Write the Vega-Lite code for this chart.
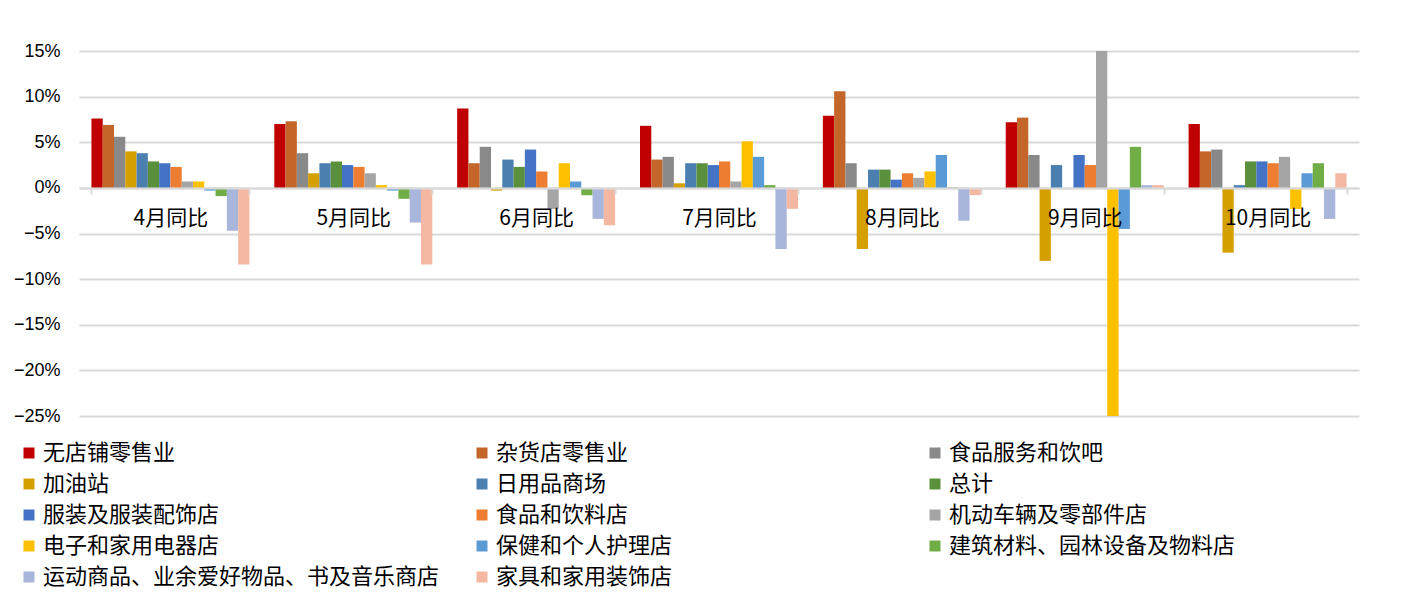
{
  "$schema": "https://vega.github.io/schema/vega-lite/v6.json",
  "width": 1280,
  "height": 365,
  "autosize": {"type": "none"},
  "padding": {"left": 79, "top": 51, "right": 44, "bottom": 185},
  "background": "white",
  "config": {"view": {"stroke": null}, "font": "Liberation Sans"},
  "datasets": {
    "d": [
      {"month": "4月同比", "series": "无店铺零售业", "value": 7.6},
      {"month": "4月同比", "series": "杂货店零售业", "value": 6.9},
      {"month": "4月同比", "series": "食品服务和饮吧", "value": 5.6},
      {"month": "4月同比", "series": "加油站", "value": 4.0},
      {"month": "4月同比", "series": "日用品商场", "value": 3.8},
      {"month": "4月同比", "series": "总计", "value": 2.9},
      {"month": "4月同比", "series": "服装及服装配饰店", "value": 2.7},
      {"month": "4月同比", "series": "食品和饮料店", "value": 2.3},
      {"month": "4月同比", "series": "机动车辆及零部件店", "value": 0.7},
      {"month": "4月同比", "series": "电子和家用电器店", "value": 0.7},
      {"month": "4月同比", "series": "保健和个人护理店", "value": -0.3},
      {"month": "4月同比", "series": "建筑材料、园林设备及物料店", "value": -0.9},
      {"month": "4月同比", "series": "运动商品、业余爱好物品、书及音乐商店", "value": -4.7},
      {"month": "4月同比", "series": "家具和家用装饰店", "value": -8.4},

      {"month": "5月同比", "series": "无店铺零售业", "value": 7.0},
      {"month": "5月同比", "series": "杂货店零售业", "value": 7.3},
      {"month": "5月同比", "series": "食品服务和饮吧", "value": 3.8},
      {"month": "5月同比", "series": "加油站", "value": 1.6},
      {"month": "5月同比", "series": "日用品商场", "value": 2.7},
      {"month": "5月同比", "series": "总计", "value": 2.9},
      {"month": "5月同比", "series": "服装及服装配饰店", "value": 2.5},
      {"month": "5月同比", "series": "食品和饮料店", "value": 2.3},
      {"month": "5月同比", "series": "机动车辆及零部件店", "value": 1.6},
      {"month": "5月同比", "series": "电子和家用电器店", "value": 0.3},
      {"month": "5月同比", "series": "保健和个人护理店", "value": -0.3},
      {"month": "5月同比", "series": "建筑材料、园林设备及物料店", "value": -1.2},
      {"month": "5月同比", "series": "运动商品、业余爱好物品、书及音乐商店", "value": -3.8},
      {"month": "5月同比", "series": "家具和家用装饰店", "value": -8.4},

      {"month": "6月同比", "series": "无店铺零售业", "value": 8.7},
      {"month": "6月同比", "series": "杂货店零售业", "value": 2.7},
      {"month": "6月同比", "series": "食品服务和饮吧", "value": 4.5},
      {"month": "6月同比", "series": "加油站", "value": -0.3},
      {"month": "6月同比", "series": "日用品商场", "value": 3.1},
      {"month": "6月同比", "series": "总计", "value": 2.3},
      {"month": "6月同比", "series": "服装及服装配饰店", "value": 4.2},
      {"month": "6月同比", "series": "食品和饮料店", "value": 1.8},
      {"month": "6月同比", "series": "机动车辆及零部件店", "value": -2.3},
      {"month": "6月同比", "series": "电子和家用电器店", "value": 2.7},
      {"month": "6月同比", "series": "保健和个人护理店", "value": 0.7},
      {"month": "6月同比", "series": "建筑材料、园林设备及物料店", "value": -0.8},
      {"month": "6月同比", "series": "运动商品、业余爱好物品、书及音乐商店", "value": -3.4},
      {"month": "6月同比", "series": "家具和家用装饰店", "value": -4.1},

      {"month": "7月同比", "series": "无店铺零售业", "value": 6.8},
      {"month": "7月同比", "series": "杂货店零售业", "value": 3.1},
      {"month": "7月同比", "series": "食品服务和饮吧", "value": 3.4},
      {"month": "7月同比", "series": "加油站", "value": 0.5},
      {"month": "7月同比", "series": "日用品商场", "value": 2.7},
      {"month": "7月同比", "series": "总计", "value": 2.7},
      {"month": "7月同比", "series": "服装及服装配饰店", "value": 2.5},
      {"month": "7月同比", "series": "食品和饮料店", "value": 2.9},
      {"month": "7月同比", "series": "机动车辆及零部件店", "value": 0.7},
      {"month": "7月同比", "series": "电子和家用电器店", "value": 5.1},
      {"month": "7月同比", "series": "保健和个人护理店", "value": 3.4},
      {"month": "7月同比", "series": "建筑材料、园林设备及物料店", "value": 0.3},
      {"month": "7月同比", "series": "运动商品、业余爱好物品、书及音乐商店", "value": -6.7},
      {"month": "7月同比", "series": "家具和家用装饰店", "value": -2.3},

      {"month": "8月同比", "series": "无店铺零售业", "value": 7.9},
      {"month": "8月同比", "series": "杂货店零售业", "value": 10.6},
      {"month": "8月同比", "series": "食品服务和饮吧", "value": 2.7},
      {"month": "8月同比", "series": "加油站", "value": -6.7},
      {"month": "8月同比", "series": "日用品商场", "value": 2.0},
      {"month": "8月同比", "series": "总计", "value": 2.0},
      {"month": "8月同比", "series": "服装及服装配饰店", "value": 0.9},
      {"month": "8月同比", "series": "食品和饮料店", "value": 1.6},
      {"month": "8月同比", "series": "机动车辆及零部件店", "value": 1.1},
      {"month": "8月同比", "series": "电子和家用电器店", "value": 1.8},
      {"month": "8月同比", "series": "保健和个人护理店", "value": 3.6},
      {"month": "8月同比", "series": "建筑材料、园林设备及物料店", "value": 0.05},
      {"month": "8月同比", "series": "运动商品、业余爱好物品、书及音乐商店", "value": -3.6},
      {"month": "8月同比", "series": "家具和家用装饰店", "value": -0.8},

      {"month": "9月同比", "series": "无店铺零售业", "value": 7.2},
      {"month": "9月同比", "series": "杂货店零售业", "value": 7.7},
      {"month": "9月同比", "series": "食品服务和饮吧", "value": 3.6},
      {"month": "9月同比", "series": "加油站", "value": -8.0},
      {"month": "9月同比", "series": "日用品商场", "value": 2.5},
      {"month": "9月同比", "series": "总计", "value": 0},
      {"month": "9月同比", "series": "服装及服装配饰店", "value": 3.6},
      {"month": "9月同比", "series": "食品和饮料店", "value": 2.5},
      {"month": "9月同比", "series": "机动车辆及零部件店", "value": 15},
      {"month": "9月同比", "series": "电子和家用电器店", "value": -25},
      {"month": "9月同比", "series": "保健和个人护理店", "value": -4.5},
      {"month": "9月同比", "series": "建筑材料、园林设备及物料店", "value": 4.5},
      {"month": "9月同比", "series": "运动商品、业余爱好物品、书及音乐商店", "value": 0.3},
      {"month": "9月同比", "series": "家具和家用装饰店", "value": 0.3},

      {"month": "10月同比", "series": "无店铺零售业", "value": 7.0},
      {"month": "10月同比", "series": "杂货店零售业", "value": 4.0},
      {"month": "10月同比", "series": "食品服务和饮吧", "value": 4.2},
      {"month": "10月同比", "series": "加油站", "value": -7.1},
      {"month": "10月同比", "series": "日用品商场", "value": 0.3},
      {"month": "10月同比", "series": "总计", "value": 2.9},
      {"month": "10月同比", "series": "服装及服装配饰店", "value": 2.9},
      {"month": "10月同比", "series": "食品和饮料店", "value": 2.7},
      {"month": "10月同比", "series": "机动车辆及零部件店", "value": 3.4},
      {"month": "10月同比", "series": "电子和家用电器店", "value": -2.3},
      {"month": "10月同比", "series": "保健和个人护理店", "value": 1.6},
      {"month": "10月同比", "series": "建筑材料、园林设备及物料店", "value": 2.7},
      {"month": "10月同比", "series": "运动商品、业余爱好物品、书及音乐商店", "value": -3.4},
      {"month": "10月同比", "series": "家具和家用装饰店", "value": 1.6}
    ]
  },
  "data": {"name": "d"},
  "mark": {"type": "bar", "clip": true},
  "encoding": {
    "x": {
      "field": "month",
      "type": "nominal",
      "sort": ["4月同比", "5月同比", "6月同比", "7月同比", "8月同比", "9月同比", "10月同比"],
      "scale": {"paddingInner": 0.136, "paddingOuter": 0.068},
      "axis": {
        "title": null,
        "labelAngle": 0,
        "offset": -228,
        "zindex": 1,
        "domainColor": "#d9d9d9",
        "domainWidth": 2,
        "tickColor": "#d9d9d9",
        "tickWidth": 2,
        "tickSize": 6,
        "tickBand": "extent",
        "labelFont": "Noto Sans CJK SC",
        "labelFontSize": 21,
        "labelColor": "#000000",
        "labelPadding": 13
      }
    },
    "xOffset": {
      "field": "series",
      "type": "nominal",
      "sort": ["无店铺零售业", "杂货店零售业", "食品服务和饮吧", "加油站", "日用品商场", "总计", "服装及服装配饰店", "食品和饮料店", "机动车辆及零部件店", "电子和家用电器店", "保健和个人护理店", "建筑材料、园林设备及物料店", "运动商品、业余爱好物品、书及音乐商店", "家具和家用装饰店"],
      "scale": {"paddingInner": 0, "paddingOuter": 0}
    },
    "y": {
      "field": "value",
      "type": "quantitative",
      "scale": {"domain": [-25, 15], "nice": false},
      "axis": {
        "title": null,
        "values": [-25, -20, -15, -10, -5, 0, 5, 10, 15],
        "labelExpr": "format(datum.value / 100, '.0%')",
        "domain": false,
        "ticks": false,
        "gridColor": "#d9d9d9",
        "gridWidth": 2,
        "labelFont": "Liberation Sans",
        "labelFontSize": 18,
        "labelColor": "#000000",
        "labelPadding": 19
      }
    },
    "color": {
      "field": "series",
      "type": "nominal",
      "scale": {
        "domain": ["无店铺零售业", "杂货店零售业", "食品服务和饮吧", "加油站", "日用品商场", "总计", "服装及服装配饰店", "食品和饮料店", "机动车辆及零部件店", "电子和家用电器店", "保健和个人护理店", "建筑材料、园林设备及物料店", "运动商品、业余爱好物品、书及音乐商店", "家具和家用装饰店"],
        "range": ["#c00000", "#c4652a", "#898989", "#d4a000", "#4a7fb0", "#5a8f3c", "#4472c4", "#ed7d31", "#a5a5a5", "#ffc000", "#5b9bd5", "#70ad47", "#a9b6db", "#f4b8a2"]
      },
      "legend": {
        "title": null,
        "orient": "none",
        "legendX": -61,
        "legendY": 391,
        "direction": "horizontal",
        "columns": 3,
        "gridAlign": "all",
        "columnPadding": 31,
        "rowPadding": 9,
        "padding": 0,
        "symbolType": "square",
        "symbolSize": 121,
        "symbolStrokeWidth": 0,
        "labelOffset": 3,
        "labelFont": "Noto Sans CJK SC",
        "labelFontSize": 22,
        "labelColor": "#000000",
        "labelLimit": 600
      }
    }
  }
}
